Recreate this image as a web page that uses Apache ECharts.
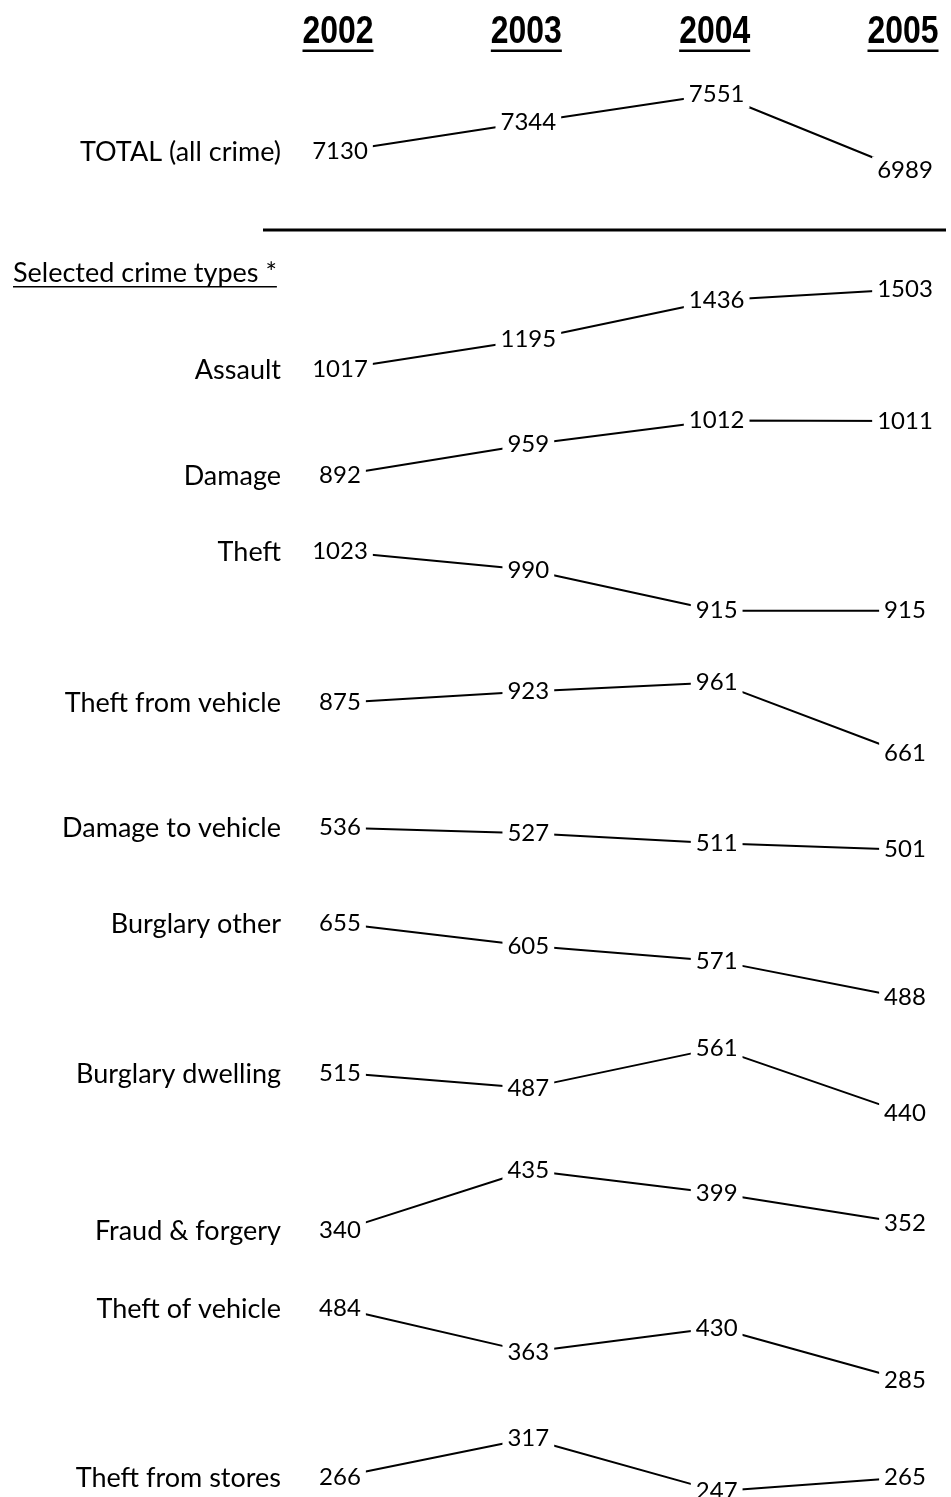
<!DOCTYPE html>
<html><head><meta charset="utf-8">
<script src="https://cdn.jsdelivr.net/npm/echarts@6/dist/echarts.min.js"></script>
<style>html,body{margin:0;padding:0;background:#fff}#c{width:951px;height:1497px}</style>
</head><body><div id="c"></div>
<script>
// ---------- data ----------
const years = ['2002', '2003', '2004', '2005'];
const rowNames = ['TOTAL (all crime)', 'Assault', 'Damage', 'Theft', 'Theft from vehicle',
  'Damage to vehicle', 'Burglary other', 'Burglary dwelling', 'Fraud & forgery',
  'Theft of vehicle', 'Theft from stores'];
const total            = [7130, 7344, 7551, 6989];
const assault          = [1017, 1195, 1436, 1503];
const damage           = [892, 959, 1012, 1011];
const theft            = [1023, 990, 915, 915];
const theftFromVehicle = [875, 923, 961, 661];
const damageToVehicle  = [536, 527, 511, 501];
const burglaryOther    = [655, 605, 571, 488];
const burglaryDwelling = [515, 487, 561, 440];
const fraudForgery     = [340, 435, 399, 352];
const theftOfVehicle   = [484, 363, 430, 285];
const theftFromStores  = [266, 317, 247, 265];
const sectionTitle = 'Selected crime types *';

const rows = [total, assault, damage, theft, theftFromVehicle, damageToVehicle,
  burglaryOther, burglaryDwelling, fraudForgery, theftOfVehicle, theftFromStores];

// ---------- layout (pixel y of each row's mean value, and pixels per unit) ----------
const rowMeanY     = [134.5, 324.5, 440.25, 585.75, 707.5, 838.5, 957, 1080.5, 1204.25, 1342, 1471];
const rowPxPerUnit = [0.136, 0.164, 0.455, 0.546, 0.237, 0.628, 0.444, 0.537, 0.635, 0.36, 0.753];

const FONT = 'Lato, "Open Sans", sans-serif';
const HEAD_FONT = '"Liberation Sans", Arial, sans-serif';
const NUM_SIZE = 24;
const NAME_SIZE = 27;

const chart = echarts.init(document.getElementById('c'), null, {renderer: 'canvas'});

const grids = [], xAxes = [], yAxes = [], series = [];
rows.forEach((vals, i) => {
  const mn = Math.min(...vals), mx = Math.max(...vals);
  const mean = vals.reduce((a, b) => a + b, 0) / vals.length;
  const k = rowPxPerUnit[i];
  const top = rowMeanY[i] - k * (mx - mean);
  const h = k * (mx - mn);
  grids.push({left: 340, right: 46, top: top, height: h, containLabel: false});
  xAxes.push({
    type: 'category', gridIndex: i, data: years, boundaryGap: false, show: false
  });
  yAxes.push({type: 'value', gridIndex: i, min: mn, max: mx, show: false, splitLine: {show: false}});
  series.push({
    type: 'line', name: rowNames[i], xAxisIndex: i, yAxisIndex: i, data: vals,
    color: '#000', silent: true, clip: false,
    symbol: 'circle', symbolSize: 2, itemStyle: {color: '#fff'},
    lineStyle: {color: '#000', width: 2},
    label: {
      show: true, position: 'inside', formatter: '{c}',
      fontFamily: FONT, fontSize: NUM_SIZE, color: '#000',
      backgroundColor: '#fff', padding: [2, 5]
    },
    emphasis: {disabled: true}
  });
});

chart.setOption({
  backgroundColor: '#fff',
  animation: false,
  grid: grids, xAxis: xAxes, yAxis: yAxes, series: series
});

// measure text
const ctx = document.createElement('canvas').getContext('2d');
ctx.font = NAME_SIZE + 'px ' + FONT;
const titleW = ctx.measureText(sectionTitle).width;
ctx.font = 'bold 38px ' + HEAD_FONT;
const headW = ctx.measureText('2002').width;
const HEAD_TARGET_W = 71;
const headScale = HEAD_TARGET_W / headW;

const graphics = [
  {type: 'line', shape: {x1: 263, y1: 230, x2: 946, y2: 230}, style: {stroke: '#000', lineWidth: 3}, silent: true},
  {type: 'text', x: 13, y: 273, style: {text: sectionTitle, font: NAME_SIZE + 'px ' + FONT, fill: '#000', textAlign: 'left', textVerticalAlign: 'middle'}, silent: true},
  {type: 'rect', shape: {x: 13, y: 286, width: titleW, height: 1.5}, style: {fill: '#000'}, silent: true}
];
// year headers, placed on the category positions of the first grid
years.forEach((yr, j) => {
  const p = chart.convertToPixel({xAxisIndex: 0}, yr);
  const cx = p - 2;
  graphics.push({
    type: 'text', x: cx, y: 33, scaleX: headScale, scaleY: 1,
    style: {text: yr, font: 'bold 38px ' + HEAD_FONT, fill: '#000', textAlign: 'center', textVerticalAlign: 'middle'},
    silent: true
  });
  graphics.push({type: 'rect', shape: {x: cx - HEAD_TARGET_W / 2, y: 49.5, width: HEAD_TARGET_W, height: 2.5}, style: {fill: '#000'}, silent: true});
});
rows.forEach((vals, i) => {
  const p = chart.convertToPixel({seriesIndex: i}, [years[0], vals[0]]);
  graphics.push({
    type: 'text', x: 281, y: p[1] + 1,
    style: {text: rowNames[i], font: NAME_SIZE + 'px ' + FONT, fill: '#000', textAlign: 'right', textVerticalAlign: 'middle'},
    silent: true
  });
});
chart.setOption({graphic: graphics});
</script>
</body></html>
